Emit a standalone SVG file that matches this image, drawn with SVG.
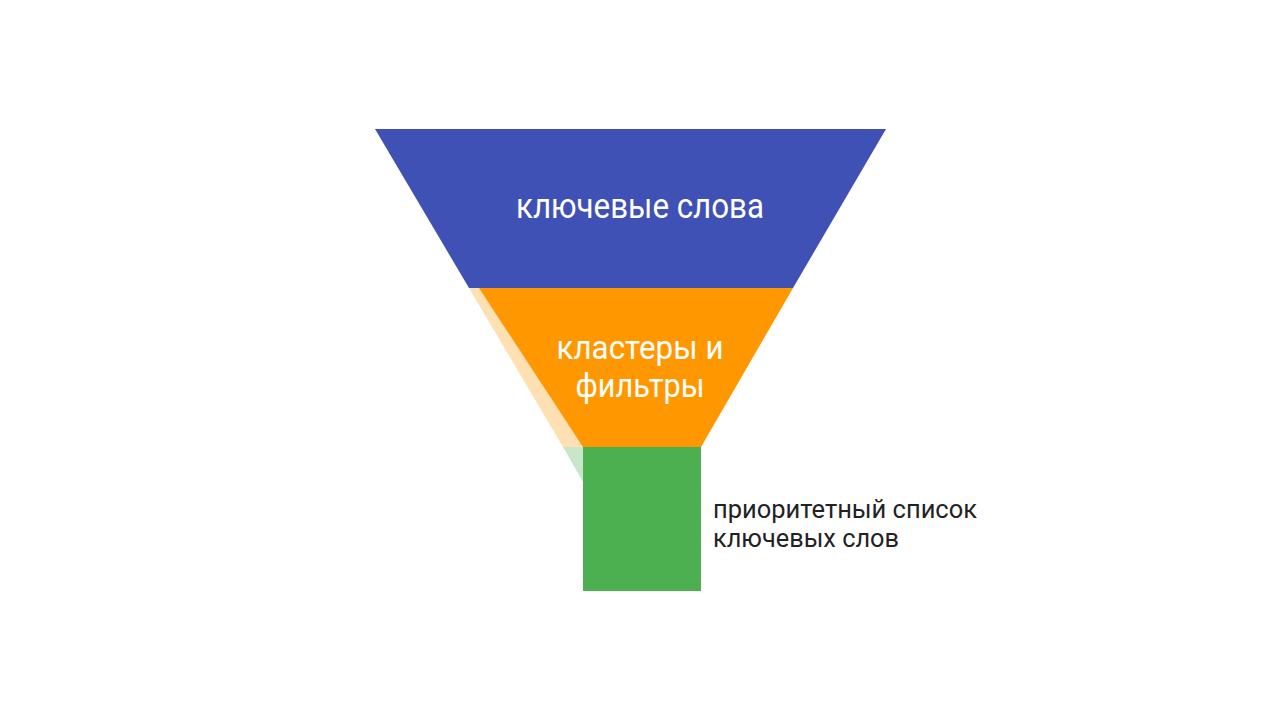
<svg xmlns="http://www.w3.org/2000/svg" width="1280" height="720" viewBox="0 0 1280 720">
  <style>
    .lbl { font-family: Roboto, "Noto Sans", "DejaVu Sans", sans-serif; }
    .white { fill: #ffffff; text-anchor: middle; }
    .dark { fill: #222222; }
  </style>
  <rect width="1280" height="720" fill="#ffffff"/>
  <g id="node-keywords">
    <polygon points="375,129 886,129 793,288 469,288" fill="#3F51B5"/>
    <text class="lbl white" x="640" y="218" font-size="35" textLength="248" lengthAdjust="spacingAndGlyphs">ключевые слова</text>
  </g>
  <g id="node-clusters">
    <polygon points="469,288 793,288 701,447 563,447" fill="#FFE0B2"/>
    <polygon points="479,288 793,288 701,447 583,447" fill="#FF9800"/>
    <text class="lbl white" x="640" y="359" font-size="34" textLength="167" lengthAdjust="spacingAndGlyphs">кластеры и</text>
    <text class="lbl white" x="640" y="397" font-size="34" textLength="129" lengthAdjust="spacingAndGlyphs">фильтры</text>
  </g>
  <g id="node-priority">
    <polygon points="563,447 583,447 583,482" fill="#C8E6C9"/>
    <rect x="583" y="447" width="118" height="144" fill="#4CAF50"/>
    <text class="lbl dark" x="713" y="518" font-size="26" textLength="264" lengthAdjust="spacingAndGlyphs">приоритетный список</text>
    <text class="lbl dark" x="713" y="547" font-size="26" textLength="186" lengthAdjust="spacingAndGlyphs">ключевых слов</text>
  </g>
  <g id="connectors"></g>
</svg>
